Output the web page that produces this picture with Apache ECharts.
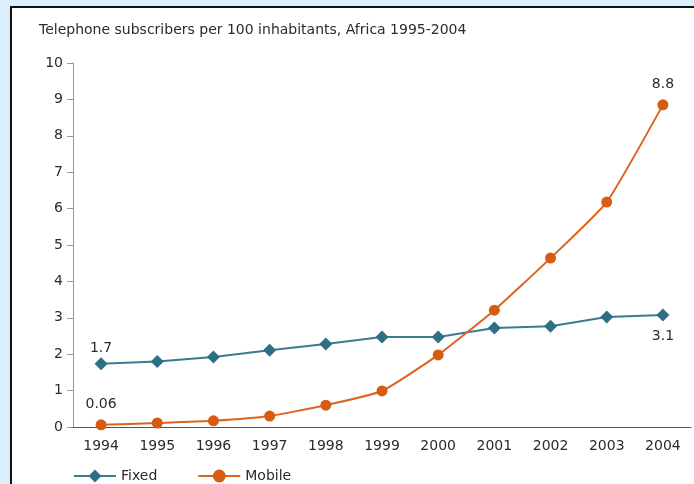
<!DOCTYPE html>
<html>
<head>
<meta charset="utf-8">
<script src="https://cdn.jsdelivr.net/npm/echarts@6/dist/echarts.min.js"></script>
<style>
    html, body { margin: 0; padding: 0; background: #dcedfc; }
    .box { position: absolute; left: 10px; top: 6px; width: 720px; height: 520px; border: 2px solid #111; background: #fff; }
    .chart { position: absolute; left: 0; top: 0; width: 694px; height: 484px; }
</style>
</head>
<body>
<div class="box"></div>
<div class="chart"></div>
<script>
var years = ['1994', '1995', '1996', '1997', '1998', '1999', '2000', '2001', '2002', '2003', '2004'];
var fixed = [1.74, 1.8, 1.92, 2.11, 2.28, 2.47, 2.47, 2.72, 2.77, 3.02, 3.08];
var mobile = [0.06, 0.11, 0.17, 0.3, 0.6, 0.99, 1.98, 3.21, 4.64, 6.18, 8.85];
var fixedLabels = ['1.7', '3.1'];
var mobileLabels = ['0.06', '8.8'];

var textColor = '#2b2b2b';
var font = 'DejaVu Sans';

// only first and last points get a label
function withEnds(values, labels, firstPos, lastPos, firstDist) {
    return values.map(function (v, i) {
        if (i === 0) return { value: v, label: { show: true, position: firstPos, distance: firstDist, formatter: labels[0] } };
        if (i === values.length - 1) return { value: v, label: { show: true, position: lastPos, formatter: labels[1] } };
        return v;
    });
}

var chart = echarts.init(document.querySelector('.chart'));
var option = {
    animation: false,
    textStyle: { fontFamily: font },
    title: {
        text: 'Telephone subscribers per 100 inhabitants, Africa 1995-2004',
        left: 34, top: 18,
        textStyle: { fontSize: 14, fontWeight: 'normal', color: textColor, fontFamily: font }
    },
    legend: {
        left: 68, top: 464,
        itemWidth: 42, itemHeight: 16, itemGap: 40,
        textStyle: { fontSize: 14, color: textColor, fontFamily: font },
        data: ['Fixed', 'Mobile']
    },
    grid: { left: 73, right: 3, top: 63, bottom: 57 },
    xAxis: {
        type: 'category',
        data: years,
        boundaryGap: true,
        axisLine: { lineStyle: { color: '#555', width: 1 } },
        axisTick: { length: 8, lineStyle: { color: '#555' } },
        axisLabel: { fontSize: 14, color: textColor, margin: 12, fontFamily: font }
    },
    yAxis: {
        type: 'value',
        min: 0, max: 10, interval: 1,
        splitLine: { show: false },
        axisLine: { show: true, lineStyle: { color: '#999' } },
        axisTick: { show: true, length: 6, lineStyle: { color: '#999' } },
        axisLabel: { fontSize: 14, color: textColor, margin: 10, fontFamily: font }
    },
    series: [
        {
            name: 'Fixed',
            type: 'line',
            data: withEnds(fixed, fixedLabels, 'top', 'bottom', 2),
            symbol: 'diamond',
            symbolSize: 13,
            itemStyle: { color: '#2f6f86' },
            lineStyle: { color: '#3b7a90', width: 2 },
            label: { fontSize: 14, color: textColor, distance: 8, fontFamily: font }
        },
        {
            name: 'Mobile',
            type: 'line',
            data: withEnds(mobile, mobileLabels, 'top', 'top', 8),
            symbol: 'circle',
            symbolSize: 11,
            smooth: 0.15,
            itemStyle: { color: '#d95b12' },
            lineStyle: { color: '#dc6420', width: 2 },
            label: { fontSize: 14, color: textColor, distance: 8, fontFamily: font }
        }
    ]
};
chart.setOption(option);
</script>
</body>
</html>
